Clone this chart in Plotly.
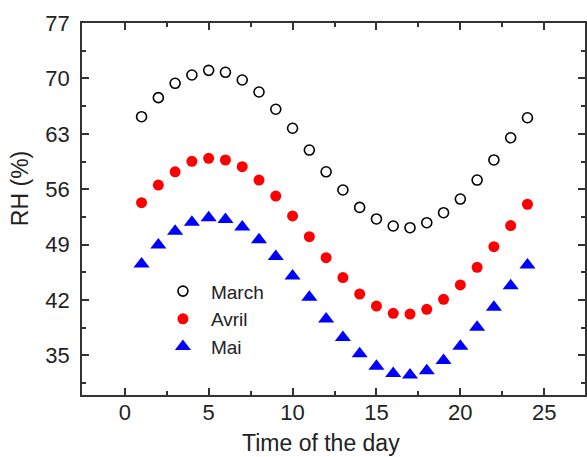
import plotly.graph_objects as go

hours = list(range(1, 25))
march = [65.16, 67.57, 69.38, 70.43, 71.02, 70.77, 69.8, 68.28, 66.1, 63.7, 60.95, 58.2,
         55.9, 53.7, 52.24, 51.35, 51.14, 51.77, 53.03, 54.76, 57.16, 59.7, 62.5, 65.03]
avril = [54.3, 56.53, 58.2, 59.52, 59.9, 59.69, 58.85, 57.16, 55.14, 52.62, 50.0, 47.35,
         44.83, 42.76, 41.24, 40.32, 40.23, 40.82, 42.09, 43.9, 46.13, 48.74, 51.4, 54.1]
mai = [46.56, 48.96, 50.7, 51.83, 52.4, 52.16, 51.23, 49.63, 47.49, 45.04, 42.35, 39.6,
       37.25, 35.2, 33.64, 32.73, 32.54, 33.07, 34.35, 36.16, 38.57, 41.09, 43.8, 46.41]
y_ticks = [35, 42, 49, 56, 63, 70, 77]
x_ticks = [0, 5, 10, 15, 20, 25]

FONT = "Arial, 'Liberation Sans', sans-serif"
TXT = "#222222"
AX = "#333333"

fig = go.Figure()
fig.add_trace(go.Scatter(x=hours, y=march, mode="markers", name="March",
                         marker=dict(symbol="circle-open", size=10, color="black",
                                     line=dict(color="black", width=1.6))))
fig.add_trace(go.Scatter(x=hours, y=avril, mode="markers", name="Avril",
                         marker=dict(symbol="circle", size=11, color="#ff0000",
                                     line=dict(width=0))))
fig.add_trace(go.Scatter(x=hours, y=mai, mode="markers", name="Mai",
                         marker=dict(symbol="triangle-up", size=14, color="#0000ff",
                                     line=dict(width=0))))

axis_common = dict(showline=True, linecolor=AX, linewidth=1.6, mirror="ticks",
                   ticks="inside", ticklen=7, tickwidth=1.5, tickcolor=AX,
                   showgrid=False, zeroline=False,
                   tickfont=dict(family=FONT, size=22, color=TXT))

fig.update_layout(
    width=587, height=457,
    margin=dict(l=82, r=0, t=23, b=62),
    paper_bgcolor="white", plot_bgcolor="white",
    font=dict(family=FONT, color=TXT),
    xaxis=dict(range=[-2.55, 27.43], tickvals=x_ticks, ticktext=[str(v) for v in x_ticks],
               minor=dict(ticks="inside", ticklen=4, tickwidth=1.5, tickcolor=AX,
                          tick0=-2.5, dtick=2.5),
               ticklabelstandoff=-3,
               **axis_common),
    yaxis=dict(range=[30, 77], tickvals=y_ticks, ticktext=[str(v) for v in y_ticks],
               minor=dict(ticks="inside", ticklen=4, tickwidth=1.5, tickcolor=AX,
                          tick0=35, dtick=3.5),
               ticklabelstandoff=6,
               **axis_common),
    showlegend=True,
    legend=dict(x=0.145, y=0.33, xanchor="left", yanchor="top",
                bgcolor="rgba(0,0,0,0)", borderwidth=0, itemwidth=46,
                font=dict(family=FONT, size=19, color=TXT), tracegroupgap=0),
    annotations=[
        dict(text="RH (%)", xref="paper", yref="paper", x=-0.1228, y=0.554,
             xanchor="center", yanchor="middle", textangle=-90, showarrow=False,
             font=dict(family=FONT, size=23, color=TXT)),
        dict(text="Time of the day", xref="paper", yref="paper", x=0.476, y=-0.129,
             xanchor="center", yanchor="middle", showarrow=False,
             font=dict(family=FONT, size=23, color=TXT)),
    ],
)

fig.write_html("out.html", config={"displayModeBar": False},
               post_script="document.body.style.margin='0';")
